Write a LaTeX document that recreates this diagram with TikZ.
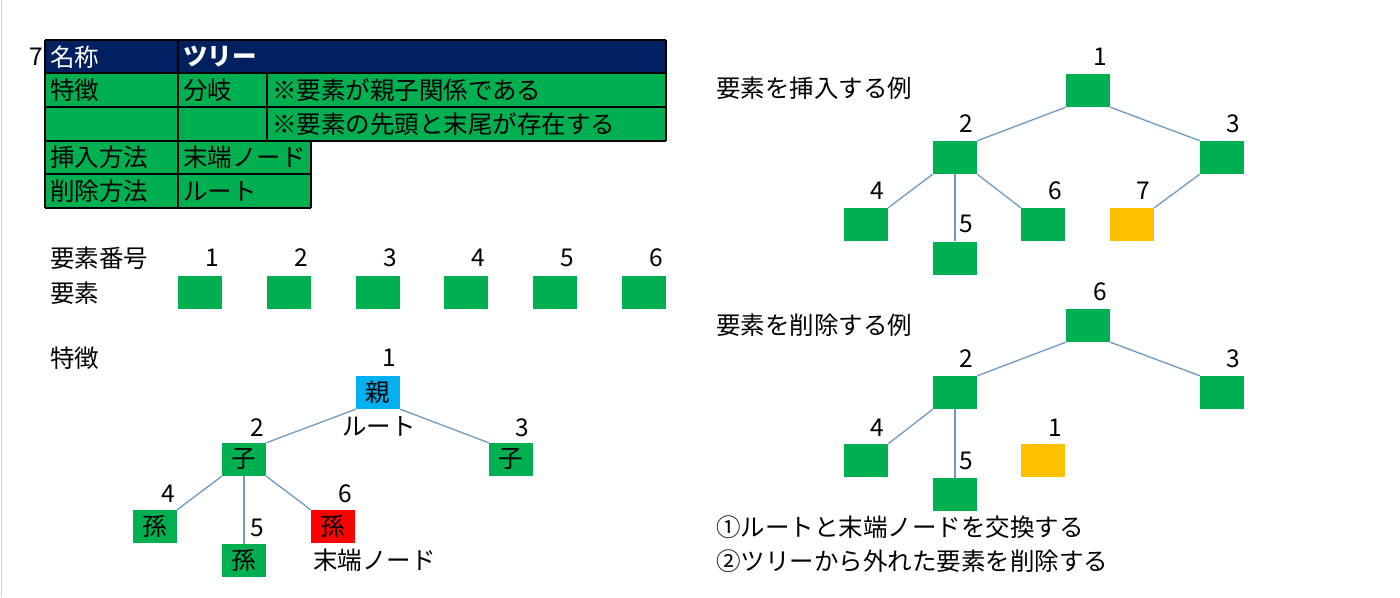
\documentclass[tikz,border=0pt]{standalone}
\usepackage{fontspec}
\setmainfont{Noto Sans CJK JP}
\definecolor{elemgreen}{HTML}{00B050}
\definecolor{tblnavy}{HTML}{002060}
\definecolor{rootblue}{HTML}{00B0F0}
\definecolor{leafred}{HTML}{FF0000}
\definecolor{moveyellow}{HTML}{FFC000}
\definecolor{linkblue}{HTML}{6E9BC5}
\definecolor{edgegray}{HTML}{D0D0D0}

\tikzset{
  elem/.style={fill=elemgreen, minimum width=44pt, minimum height=33pt, inner sep=0pt},
  lbl/.style={anchor=west, inner sep=0pt},
  num/.style={inner sep=0pt},
  link/.style={draw=linkblue, line width=1.3pt},
}

\begin{document}
\begin{tikzpicture}[x=1pt,y=-1pt,every node/.style={font=\fontsize{24.5}{29}\selectfont}]
\useasboundingbox (0,0) rectangle (1400,597);
\fill[white] (0,0) rectangle (1400,597);
\draw[edgegray] (1.5,0) -- (1.5,597);

% table
\fill[color=tblnavy] (45,40) rectangle (666,73);
\fill[color=elemgreen] (45,73) rectangle (666,141);
\fill[color=elemgreen] (45,141) rectangle (311,208);
\draw[line width=1.5pt] (45,40) -- (666,40) (45,73) -- (666,73) (45,107) -- (666,107)
  (45,141) -- (666,141) (45,174) -- (311,174) (45,208) -- (311,208);
\draw[line width=1.5pt] (45,40) -- (45,208) (178,40) -- (178,208) (267,73) -- (267,141)
  (666,40) -- (666,141) (311,141) -- (311,208);

\node[lbl] (tnum) at (29,57) {7};
\node[lbl,white] (tname) at (50,57) {名称};
\node[lbl,white,font=\fontsize{24.5}{29}\selectfont\bfseries] (tval) at (183,57) {ツリー};
\node[lbl] (tfeat) at (50,90) {特徴};
\node[lbl] (tbranch) at (183,90) {分岐};
\node[lbl] (tnote1) at (272,90) {※要素が親子関係である};
\node[lbl] (tnote2) at (272,124) {※要素の先頭と末尾が存在する};
\node[lbl] (tins) at (50,157) {挿入方法};
\node[lbl] (tinsval) at (183,157) {末端ノード};
\node[lbl] (tdel) at (50,191) {削除方法};
\node[lbl] (tdelval) at (183,191) {ルート};

% element row
\node[lbl] (rownum) at (50,258) {要素番号};
\node[lbl] (rowelem) at (50,293) {要素};
\foreach \i/\x in {1/200,2/289,3/378,4/466,5/555,6/644} {
  \node[elem] (a\i) at (\x,292.5) {};
  \node[num] (an\i) at (\x+12,258) {\i};
}

% feature tree
\node[lbl] (feat) at (50,358) {特徴};
\node[elem,fill=rootblue] (f1) at (378,392.5) {親};
\node[elem] (f2) at (244,459.5) {子};
\node[elem] (f3) at (511,459.5) {子};
\node[elem] (f4) at (155,526.5) {孫};
\node[elem] (f5) at (244,560.5) {孫};
\node[elem,fill=leafred] (f6) at (333,526.5) {孫};
\node[num] (fn1) at (389,358) {1};
\node[num] (fn2) at (257,428) {2};
\node[num] (fn3) at (522,428) {3};
\node[num] (fn4) at (168,494) {4};
\node[num] (fn5) at (257,528) {5};
\node[num] (fn6) at (345,494) {6};
\node[num] (froot) at (379,426) {ルート};
\node[lbl] (fleaf) at (313,560) {末端ノード};
\draw[link] (f1.south west) -- (f2.north east);
\draw[link] (f1.south east) -- (f3.north west);
\draw[link] (f2.south west) -- (f4.north east);
\draw[link] (f2.south) -- (f5.north);
\draw[link] (f2.south east) -- (f6.north west);

% insert example
\node[lbl] (ins) at (716,88) {要素を挿入する例};
\node[elem] (i1) at (1088,90.5) {};
\node[elem] (i2) at (955,157.5) {};
\node[elem] (i3) at (1222,157.5) {};
\node[elem] (i4) at (866,224.5) {};
\node[elem] (i5) at (955,258) {};
\node[elem] (i6) at (1043,224.5) {};
\node[elem,fill=moveyellow] (i7) at (1132,224.5) {};
\node[num] (in1) at (1100,57) {1};
\node[num] (in2) at (966,124) {2};
\node[num] (in3) at (1233,124) {3};
\node[num] (in4) at (877,191) {4};
\node[num] (in5) at (966,224) {5};
\node[num] (in6) at (1055,191) {6};
\node[num] (in7) at (1143,191) {7};
\draw[link] (i1.south west) -- (i2.north east);
\draw[link] (i1.south east) -- (i3.north west);
\draw[link] (i2.south west) -- (i4.north east);
\draw[link] (i2.south) -- (i5.north);
\draw[link] (i2.south east) -- (i6.north west);
\draw[link] (i3.south west) -- (i7.north east);

% delete example
\node[lbl] (del) at (716,325) {要素を削除する例};
\node[elem] (d6) at (1088,325.5) {};
\node[elem] (d2) at (955,392.5) {};
\node[elem] (d3) at (1222,392.5) {};
\node[elem] (d4) at (866,460.5) {};
\node[elem] (d5) at (955,494.5) {};
\node[elem,fill=moveyellow] (d1) at (1043,460.5) {};
\node[num] (dn6) at (1100,292) {6};
\node[num] (dn2) at (966,359) {2};
\node[num] (dn3) at (1233,359) {3};
\node[num] (dn4) at (877,428) {4};
\node[num] (dn5) at (966,461) {5};
\node[num] (dn1) at (1055,428) {1};
\draw[link] (d6.south west) -- (d2.north east);
\draw[link] (d6.south east) -- (d3.north west);
\draw[link] (d2.south west) -- (d4.north east);
\draw[link] (d2.south) -- (d5.north);

\node[lbl] (step1) at (716,527) {①ルートと末端ノードを交換する};
\node[lbl] (step2) at (716,561) {②ツリーから外れた要素を削除する};
\end{tikzpicture}
\end{document}
